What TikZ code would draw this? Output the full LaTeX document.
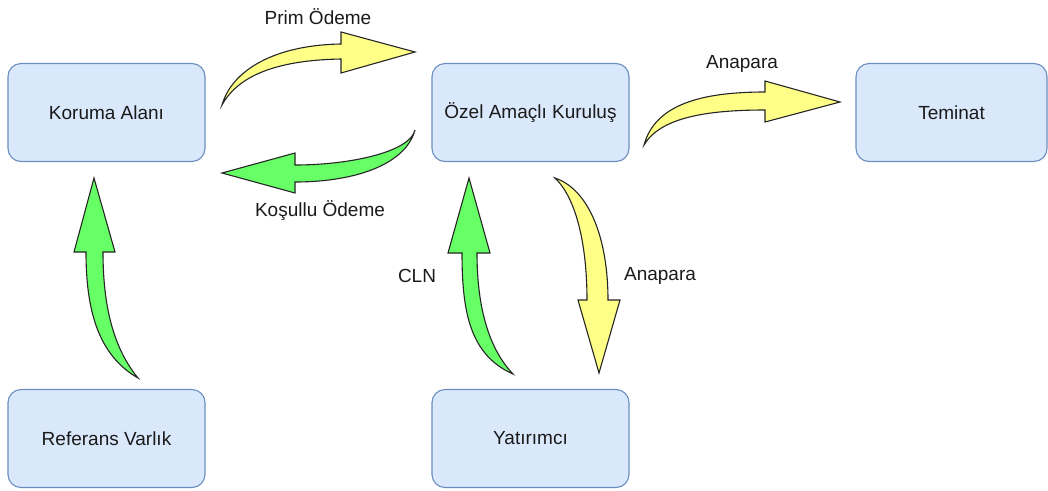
\documentclass[tikz,border=0pt]{standalone}
\usepackage{fontspec}
\setmainfont{Liberation Sans}
\definecolor{boxfill}{HTML}{DAE8FC}
\definecolor{boxline}{HTML}{6C8EBF}
\definecolor{yelfill}{HTML}{FFFF88}
\definecolor{grnfill}{HTML}{66FF66}
\definecolor{txt}{HTML}{1A1A1A}
\tikzset{
  entity/.style={draw=boxline, fill=boxfill, line width=1.1pt, rounded corners=13pt,
    minimum width=197pt, minimum height=98pt, inner sep=0pt,
    font=\fontsize{19}{22}\selectfont, text=txt},
  lbl/.style={font=\fontsize{19}{22}\selectfont, text=txt, inner sep=0pt},
  yarrow/.style={draw=black!85, fill=yelfill, line width=1.1pt, line join=miter},
  garrow/.style={draw=black!85, fill=grnfill, line width=1.1pt, line join=miter}
}
\begin{document}
\begin{tikzpicture}[x=1pt,y=-1pt]
\useasboundingbox (0,0) rectangle (1048,490);

% parties
\node[entity] (koruma)  at (106.5,112.5) {Koruma Alanı};
\node[entity] (ozel)    at (530.5,112.5) {Özel Amaçlı Kuruluş};
\node[entity, minimum width=191pt] (teminat) at (951.5,112.5) {Teminat};
\node[entity] (referans) at (106.5,438.5) {Referans Varlık};
\node[entity] (yatirim)  at (530.5,438.5) {Yatırımcı};

% premium: protection buyer -> SPV
\draw[yarrow] (222,105) .. controls (232,70) and (275,45) .. (341,44)
  -- (341,32) -- (415,52) -- (341,73) -- (341,59)
  .. controls (285,60) and (240,72) .. cycle;
% contingent payment: SPV -> protection buyer
\draw[garrow] (415,130) .. controls (410,152) and (350,165) .. (295,165)
  -- (295,153) -- (222,173) -- (295,193) -- (295,182)
  .. controls (352,182) and (405,166) .. cycle;
% principal: SPV -> collateral
\draw[yarrow] (644,145) .. controls (655,105) and (700,92) .. (765,92)
  -- (765,81) -- (840,102) -- (765,122) -- (765,110)
  .. controls (705,110) and (660,118) .. cycle;
% CLN: investor -> SPV
\draw[garrow] (513,374) .. controls (470,355) and (462,312) .. (462,253)
  -- (448,253) -- (469,178) -- (490,253) -- (477,253)
  .. controls (477,310) and (490,350) .. cycle;
% principal: SPV -> investor
\draw[yarrow] (555,178) .. controls (590,190) and (608,240) .. (608,300)
  -- (620,300) -- (599,373) -- (578,300) -- (587,300)
  .. controls (587,250) and (578,200) .. cycle;
% reference asset -> protection buyer
\draw[garrow] (138,378) .. controls (98,355) and (86,310) .. (86,252)
  -- (74,252) -- (94,178) -- (115,252) -- (103,252)
  .. controls (103,310) and (115,350) .. cycle;

% labels
\node[lbl] (l1) at (318,17) {Prim Ödeme};
\node[lbl] (l2) at (320,211) {Koşullu Ödeme};
\node[lbl] (l3) at (742,64) {Anapara};
\node[lbl] (l4) at (417,276) {CLN};
\node[lbl] (l5) at (660,276) {Anapara};
\end{tikzpicture}
\end{document}
